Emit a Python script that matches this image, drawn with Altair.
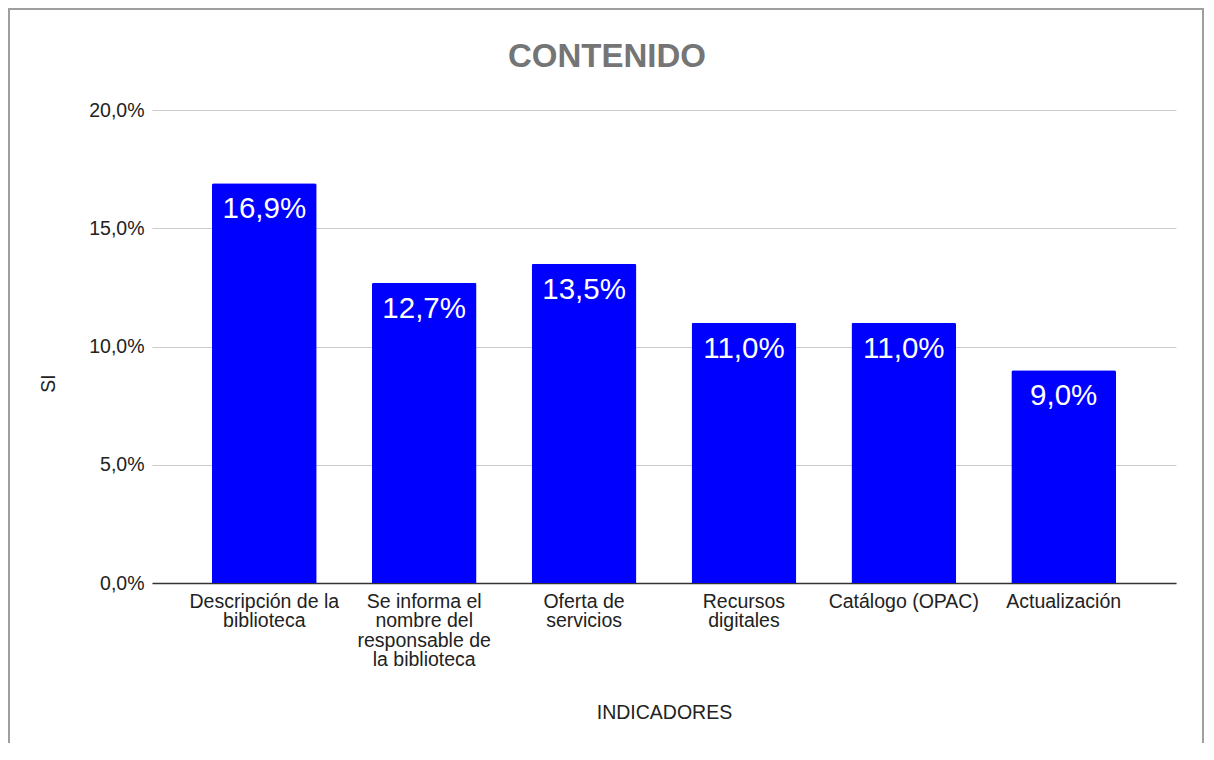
import altair as alt
import pandas as pd

categories = [
    "Descripción de la|biblioteca",
    "Se informa el|nombre del|responsable de|la biblioteca",
    "Oferta de|servicios",
    "Recursos|digitales",
    "Catálogo (OPAC)",
    "Actualización",
]
values = [0.169, 0.127, 0.135, 0.110, 0.110, 0.090]
chart_title = "CONTENIDO"

df = pd.DataFrame({"cat": categories, "val": values})

FONT = "Liberation Sans"

base = alt.Chart(df).encode(
    x=alt.X(
        "cat:N",
        sort=None,
        scale=alt.Scale(paddingInner=0.345, paddingOuter=0.375),
        axis=alt.Axis(
            title="INDICADORES",
            labelAngle=0,
            labelExpr="split(datum.label, '|')",
            labelFontSize=19.5,
            labelLineHeight=19.5,
            labelColor="#222222",
            labelPadding=9,
            labelBaseline="top",
            labelFont=FONT,
            ticks=False,
            domainColor="#333333",
            domainWidth=1.5,
            titleFont=FONT,
            titleFontSize=19.5,
            titleFontWeight="normal",
            titleColor="#222222",
            titleY=129,
            titleBaseline="middle",
        ),
    ),
    y=alt.Y(
        "val:Q",
        scale=alt.Scale(domain=[0, 0.2], nice=False),
        axis=alt.Axis(
            title="SI",
            values=[0, 0.05, 0.1, 0.15, 0.2],
            labelExpr="replace(format(datum.value, '.1%'), '.', ',')",
            labelFontSize=19.5,
            labelColor="#222222",
            labelPadding=8,
            labelFont=FONT,
            ticks=False,
            domain=False,
            gridColor="#cccccc",
            gridWidth=1,
            titleFont=FONT,
            titleFontSize=19.5,
            titleFontWeight="normal",
            titleColor="#222222",
            titleX=-104,
            titleY=273,
            titleAlign="center",
            titleBaseline="middle",
        ),
    ),
)

bars = base.mark_bar(
    color="#0000ff",
    cornerRadiusTopLeft=2,
    cornerRadiusTopRight=2,
)

labels = base.transform_calculate(
    lab="replace(format(datum.val, '.1%'), '.', ',')"
).mark_text(
    color="white",
    fontSize=29.5,
    font=FONT,
    baseline="middle",
    dy=26,
).encode(
    y=alt.Y("val:Q"),
    text="lab:N",
)

title_df = pd.DataFrame({"t": [chart_title]})
title = alt.Chart(title_df).mark_text(
    font=FONT,
    fontSize=33,
    fontWeight="bold",
    color="#757575",
    align="center",
    baseline="middle",
).encode(
    x=alt.value(455),
    y=alt.value(-53),
    text="t:N",
)

frame = alt.Chart(pd.DataFrame({"a": [0]})).mark_rect(
    fill=None, stroke="#9e9e9e", strokeWidth=2
).encode(
    x=alt.value(-143),
    x2=alt.value(1051),
    y=alt.value(-101),
    y2=alt.value(700),
)

chart = (
    alt.layer(frame, bars, labels, title)
    .properties(
        width=1024,
        height=473,
        autosize=alt.AutoSizeParams(type="none"),
        padding={"left": 144, "top": 102, "right": 28, "bottom": 160},
    )
    .configure(background="white")
    .configure_view(stroke=None)
)

chart.save("out.html", embed_options={"renderer": "svg", "actions": False})
